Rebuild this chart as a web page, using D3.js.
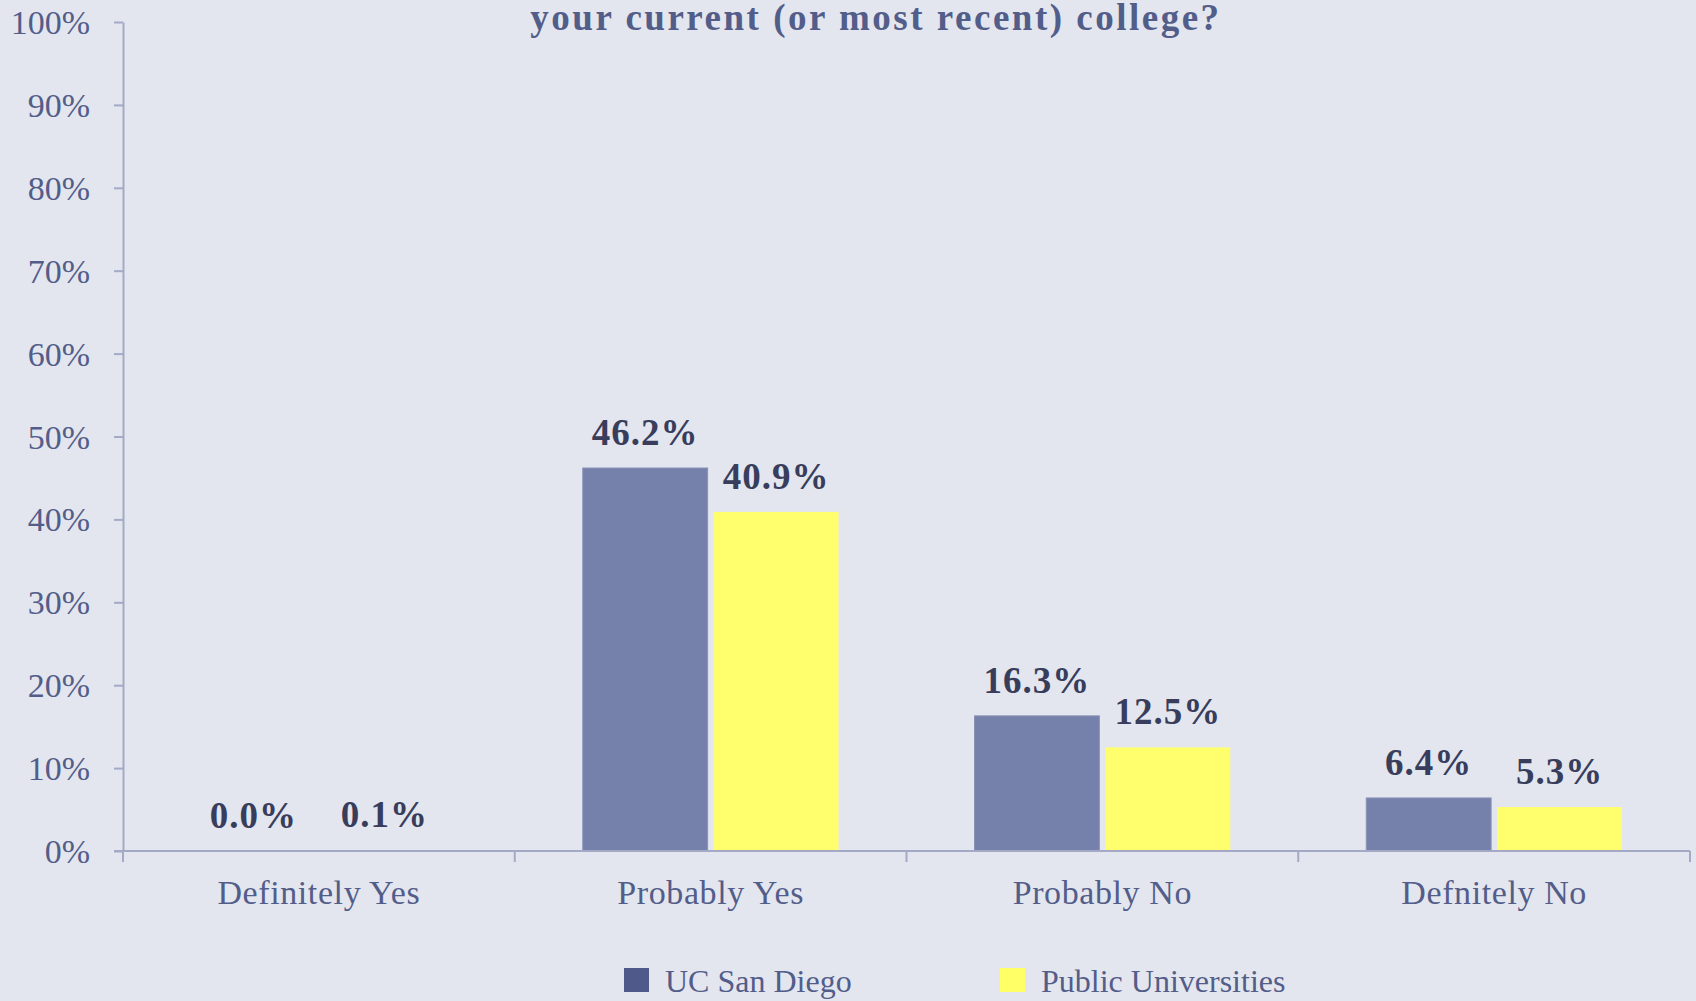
<!DOCTYPE html>
<meta charset="utf-8">
<script src="https://d3js.org/d3.v7.min.js"></script>
<style>
  body { margin: 0; background: #e3e6ee; }
  svg { display: block; font-family: "Liberation Serif", serif; }
</style>
<div id="chart"></div>
<script>

// data
var categories = ["Definitely Yes", "Probably Yes", "Probably No", "Defnitely No"];
var seriesNames = ["UC San Diego", "Public Universities"];
var ucsdValues = [0.0, 46.2, 16.3, 6.4];
var publicValues = [0.1, 40.9, 12.5, 5.3];
var yTicks = [0, 10, 20, 30, 40, 50, 60, 70, 80, 90, 100];
var titleLine = "your current (or most recent) college?";

var barColors = ["#7580ab", "#ffff6e"];
var legendColors = ["#4f5a8a", "#ffff66"];

var width = 1696, height = 1001;
var margin = {top: 22, right: 6, bottom: 150, left: 123};

var svg = d3.select("#chart")
  .append("svg")
    .attr("width", width)
    .attr("height", height);

svg.append("rect")
  .attr("width", width)
  .attr("height", height)
  .attr("fill", "#e3e6ee");

// build rows for the grouped bars
var rows = categories.map(function(c, i) {
  return {cat: c, values: [ucsdValues[i], publicValues[i]]};
});

var x = d3.scaleBand()
  .domain(categories)
  .range([margin.left, width - margin.right])
  .padding(0);

var groupPad = 68;
var x1 = d3.scaleBand()
  .domain(seriesNames)
  .range([groupPad, x.bandwidth() - groupPad])
  .paddingInner(0.046);

var y = d3.scaleLinear()
  .domain([0, 100])
  .range([851, margin.top]);

// title (only its second line shows in the picture)
svg.append("text")
  .attr("x", 876)
  .attr("y", 30)
  .attr("text-anchor", "middle")
  .style("font-size", "37px")
  .style("font-weight", "bold")
  .style("letter-spacing", "2.5px")
  .style("fill", "#535d8a")
  .text(titleLine);

// y axis
var yAxis = svg.append("g")
  .attr("transform", "translate(" + margin.left + ",0)")
  .call(d3.axisLeft(y)
    .tickValues(yTicks)
    .tickFormat(function(d) { return d + "%"; })
    .tickSizeInner(9)
    .tickSizeOuter(0)
    .tickPadding(24));
yAxis.select(".domain").attr("stroke", "#a4a9c6").attr("stroke-width", 2);
yAxis.selectAll(".tick line").attr("stroke", "#a4a9c6").attr("stroke-width", 2);
yAxis.selectAll(".tick text")
  .style("font-size", "34px")
  .style("font-family", "Liberation Serif, serif")
  .attr("dy", "0.34em")
  .style("fill", "#535d8a");

// bars
var groups = svg.append("g")
  .selectAll("g")
  .data(rows)
  .enter().append("g")
    .attr("transform", function(d) { return "translate(" + x(d.cat) + ",0)"; });

groups.selectAll("rect")
  .data(function(d) { return d.values.map(function(v, i) { return {key: seriesNames[i], value: v, i: i}; }); })
  .enter().append("rect")
    .attr("x", function(d) { return x1(d.key); })
    .attr("y", function(d) { return y(d.value); })
    .attr("width", x1.bandwidth())
    .attr("height", function(d) { return y(0) - y(d.value); })
    .attr("fill", function(d) { return barColors[d.i]; })
    .attr("stroke", function(d) { return d.i == 0 && d.value > 0 ? "#8a92b8" : "none"; })
    .attr("stroke-width", 1);

groups.selectAll("text")
  .data(function(d) { return d.values.map(function(v, i) { return {key: seriesNames[i], value: v, i: i}; }); })
  .enter().append("text")
    .attr("x", function(d) { return x1(d.key) + x1.bandwidth() / 2; })
    .attr("y", function(d) { return y(d.value) - 23; })
    .attr("text-anchor", "middle")
    .style("font-size", "37px")
    .style("font-weight", "bold")
    .style("letter-spacing", "1px")
    .style("fill", "#383d5c")
    .text(function(d) { return d.value.toFixed(1) + "%"; });

// x axis: line, boundary ticks, labels
var xAxis = svg.append("g");
xAxis.append("line")
  .attr("x1", margin.left - 9)
  .attr("x2", width - margin.right)
  .attr("y1", y(0))
  .attr("y2", y(0))
  .attr("stroke", "#a4a9c6")
  .attr("stroke-width", 2);

var bounds = categories.map(function(c) { return x(c); }).concat([x.range()[1]]);
xAxis.selectAll(".btick")
  .data(bounds)
  .enter().append("line")
    .attr("class", "btick")
    .attr("x1", function(d) { return d; })
    .attr("x2", function(d) { return d; })
    .attr("y1", y(0))
    .attr("y2", y(0) + 11)
    .attr("stroke", "#a4a9c6")
    .attr("stroke-width", 2);

xAxis.selectAll(".clabel")
  .data(categories)
  .enter().append("text")
    .attr("class", "clabel")
    .attr("x", function(d) { return x(d) + x.bandwidth() / 2; })
    .attr("y", 904)
    .attr("text-anchor", "middle")
    .style("font-size", "34px")
    .style("letter-spacing", "0.6px")
    .style("fill", "#535d8a")
    .text(function(d) { return d; });

// legend
var legendX = [624, 1000];
var legend = svg.append("g")
  .selectAll("g")
  .data(seriesNames)
  .enter().append("g")
    .attr("transform", function(d, i) { return "translate(" + legendX[i] + ",968)"; });

legend.append("rect")
  .attr("width", 25)
  .attr("height", 24)
  .attr("fill", function(d, i) { return legendColors[i]; });

legend.append("text")
  .attr("x", 41)
  .attr("y", 24)
  .style("font-size", "32px")
  .style("fill", "#535d8a")
  .text(function(d) { return d; });

</script>
